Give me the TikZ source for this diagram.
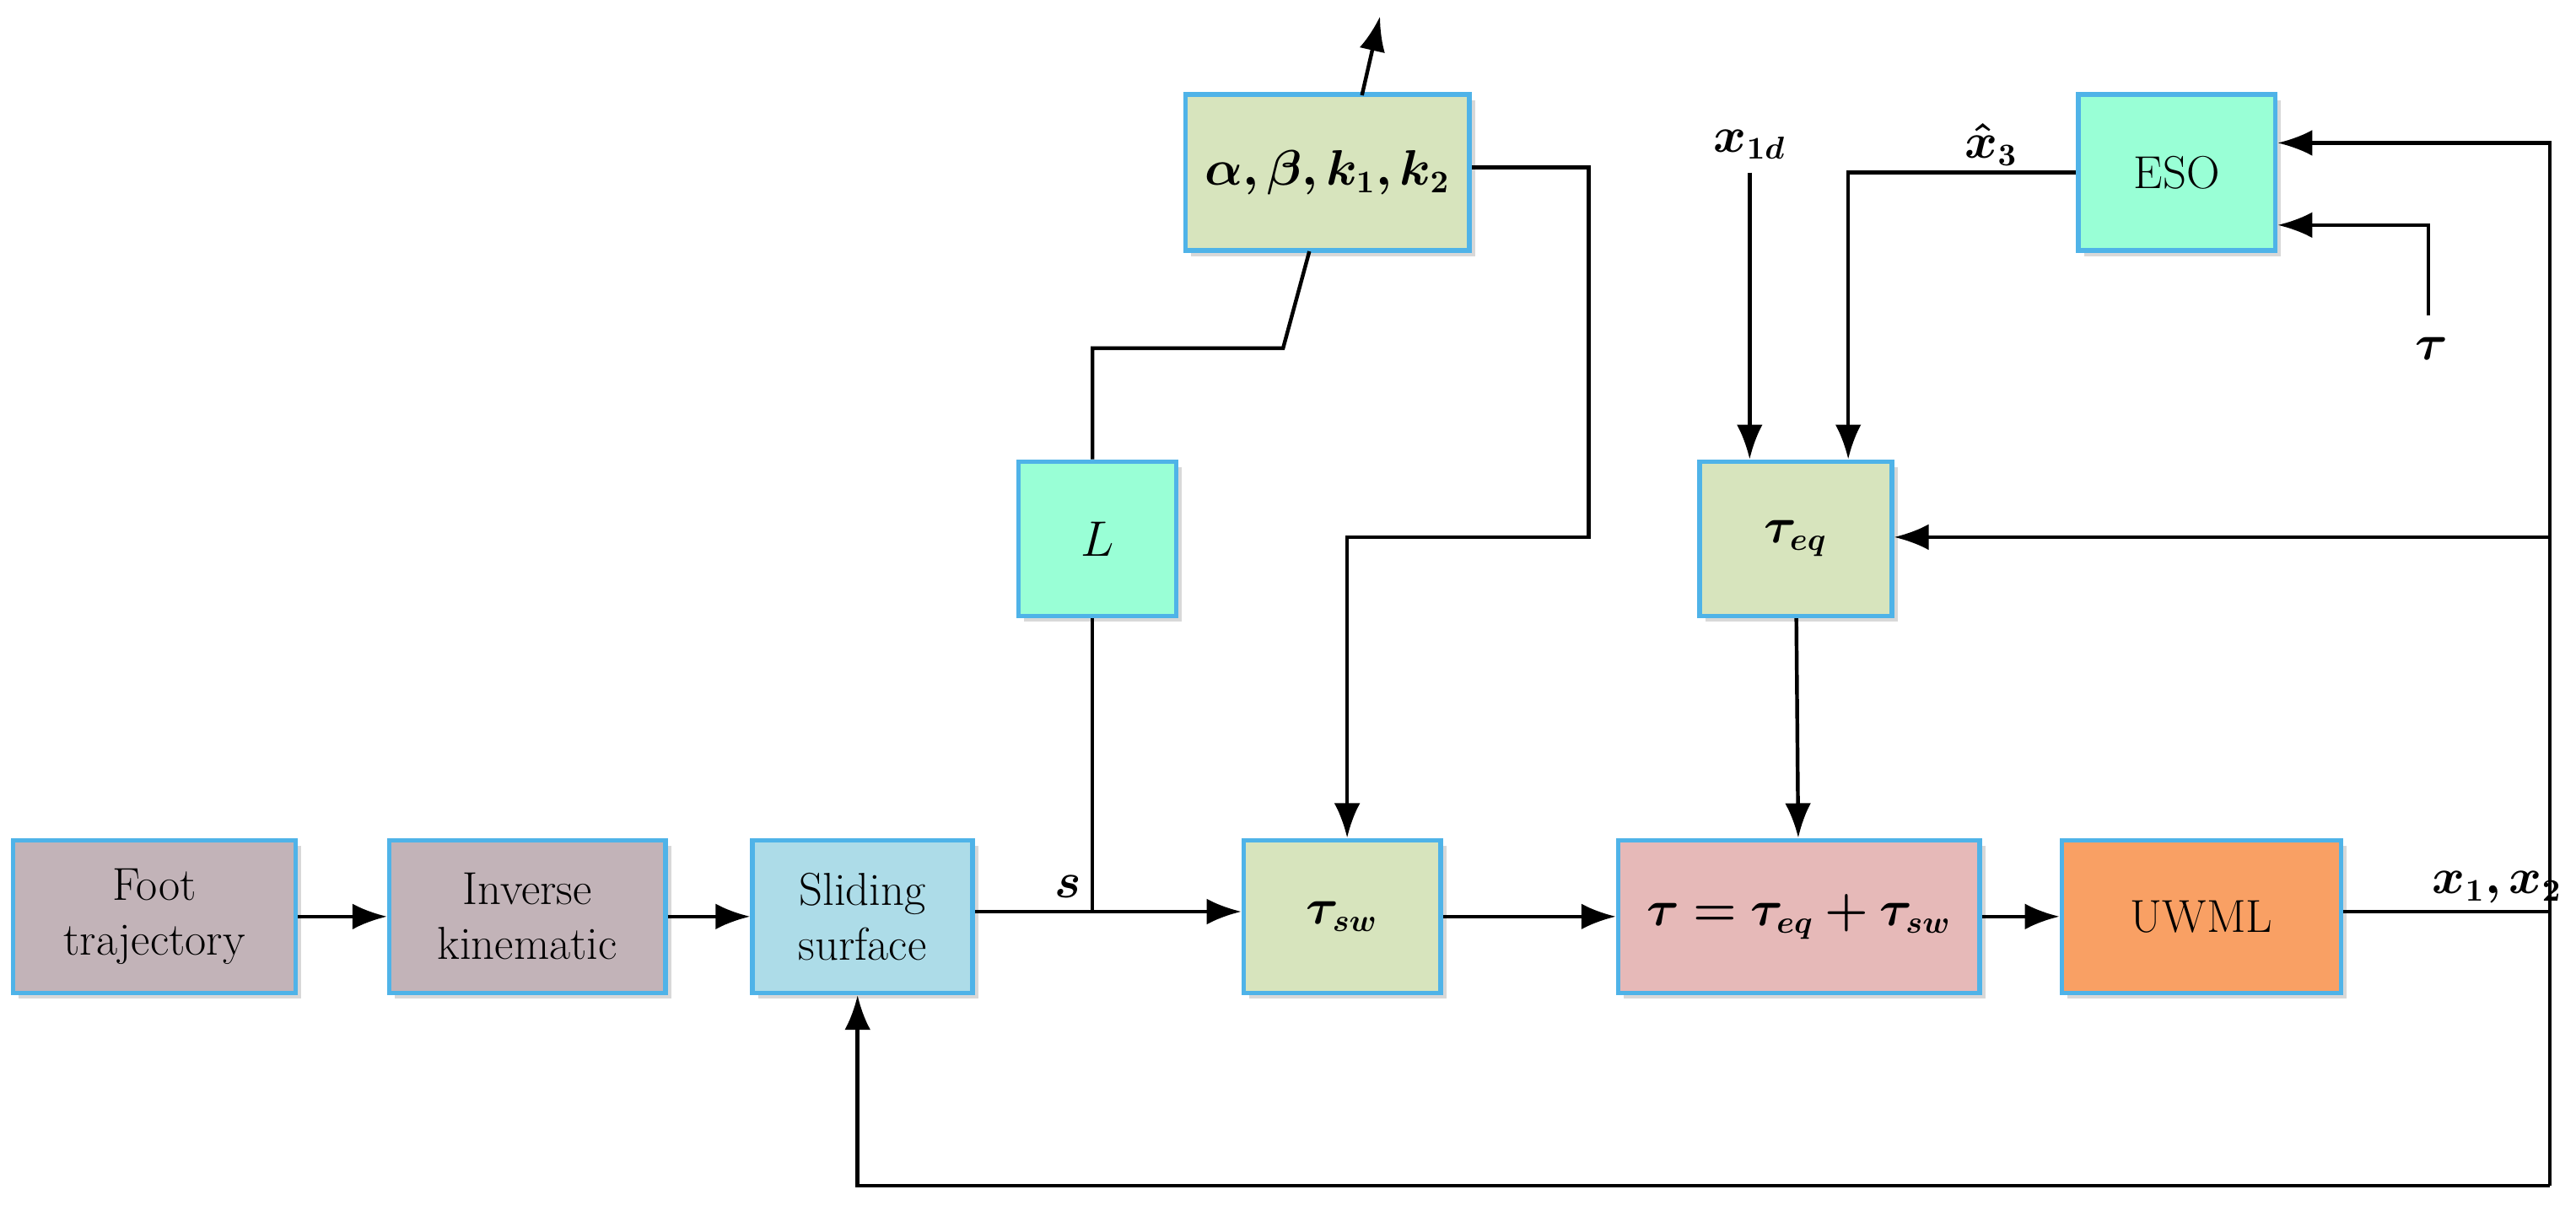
\documentclass[tikz,border=0pt]{standalone}
\usepackage{amsmath,bm}
\usetikzlibrary{arrows.meta,shadows}
\definecolor{bd}{HTML}{4FB3E8}
\definecolor{cgray}{HTML}{C2B3B8}
\definecolor{cblue}{HTML}{ADDCE8}
\definecolor{cgreen}{HTML}{D7E4BD}
\definecolor{cpink}{HTML}{E6B9B8}
\definecolor{corange}{HTML}{F9A064}
\definecolor{caqua}{HTML}{99FFD6}
\begin{document}
\begin{tikzpicture}[x=0.02cm,y=-0.02cm,
 font=\fontsize{16}{19}\selectfont,
 box/.style={draw=bd,line width=1.6pt,inner sep=0pt,align=center,
   drop shadow={shadow xshift=2pt,shadow yshift=-2pt,fill=gray!60}},
 ln/.style={line width=1.3pt},
 ar/.style={ln,-{Latex[length=12pt,width=9pt]}}]
\useasboundingbox (0,0) rectangle (1568,737);
\fill[white] (0,0) rectangle (1568,737);
\newcommand{\bx}[6]{\node[box,fill=#6,minimum width={(#3-#2)*0.02cm},minimum height={(#5-#4)*0.02cm}] (#1) at ({(#2+#3)/2},{(#4+#5)/2}) {#6x};}
\node[box,fill=cgray,minimum width=3.44cm,minimum height=1.86cm] (foot) at (94,558) {Foot\\trajectory};
\node[box,fill=cgray,minimum width=3.36cm,minimum height=1.86cm] (inv) at (321,558) {Inverse\\kinematic};
\node[box,fill=cblue,minimum width=2.68cm,minimum height=1.86cm] (slid) at (525,558) {Sliding\\surface};
\node[box,fill=cgreen,minimum width=2.4cm,minimum height=1.86cm] (tsw) at (817,558) {$\bm{\tau_{sw}}$};
\node[box,fill=cpink,minimum width=4.4cm,minimum height=1.86cm] (tsum) at (1095,558) {$\bm{\tau=\tau_{eq}+\tau_{sw}}$};
\node[box,fill=corange,minimum width=3.4cm,minimum height=1.86cm] (uwml) at (1340,558) {UWML};
\node[box,fill=caqua,minimum width=1.92cm,minimum height=1.88cm] (L) at (668,328) {$L$};
\node[box,fill=cgreen,minimum width=3.46cm,minimum height=1.9cm] (abk) at (808,105) {$\bm{\alpha,\beta,k_1,k_2}$};
\node[box,fill=cgreen,minimum width=2.34cm,minimum height=1.88cm] (teq) at (1093,328) {$\bm{\tau_{eq}}$};
\node[box,fill=caqua,minimum width=2.4cm,minimum height=1.9cm] (eso) at (1325,105) {ESO};
% labels
\node (s) at (650,540) {$\bm{s}$};
\node (xx) at (1520,540) {$\bm{x_1,x_2}$};
\node (x1d) at (1065,88) {$\bm{x_{1d}}$};
\node (x3) at (1212,88) {$\bm{\hat{x}_3}$};
\node (tau) at (1480,212) {$\bm{\tau}$};
\coordinate (j) at (665,555);
\coordinate (r) at (1552,555);
\coordinate (top) at (840,10);
% connectors
\draw[ar] (foot) -- (inv);
\draw[ar] (inv) -- (slid);
\draw[ar] (slid.east |- j) -- (tsw.west |- j);
\draw[ln] (j) -- (L.south -| j);
\draw[ln] (L.north -| j) -- (665,212) -- (781,212) -- (797,153);
\draw[ar] (829,58) -- (top);
\draw[ar] (abk.east |- 0,102) -- (967,102) -- (967,327) -- (820,327) -- (tsw.north -| 820,0);
\draw[ar] (tsw) -- (tsum);
\draw[ar] (tsum) -- (uwml);
\draw[ln] (uwml.east |- r) -- (r);
\draw[ar] (1552,722) -- (1552,87) -- (eso.east |- 0,87);
\draw[ar] (1552,327) -- (teq.east |- 0,327);
\draw[ar] (1552,722) -- (522,722) -- (slid.south -| 522,0);
\draw[ar] (1065,105) -- (teq.north -| 1065,0);
\draw[ar] (eso.west |- 0,105) -- (1125,105) -- (teq.north -| 1125,0);
\draw[ar] (1478,192) -- (1478,137) -- (eso.east |- 0,137);
\draw[ar] (teq) -- (tsum);
\end{tikzpicture}
\end{document}
